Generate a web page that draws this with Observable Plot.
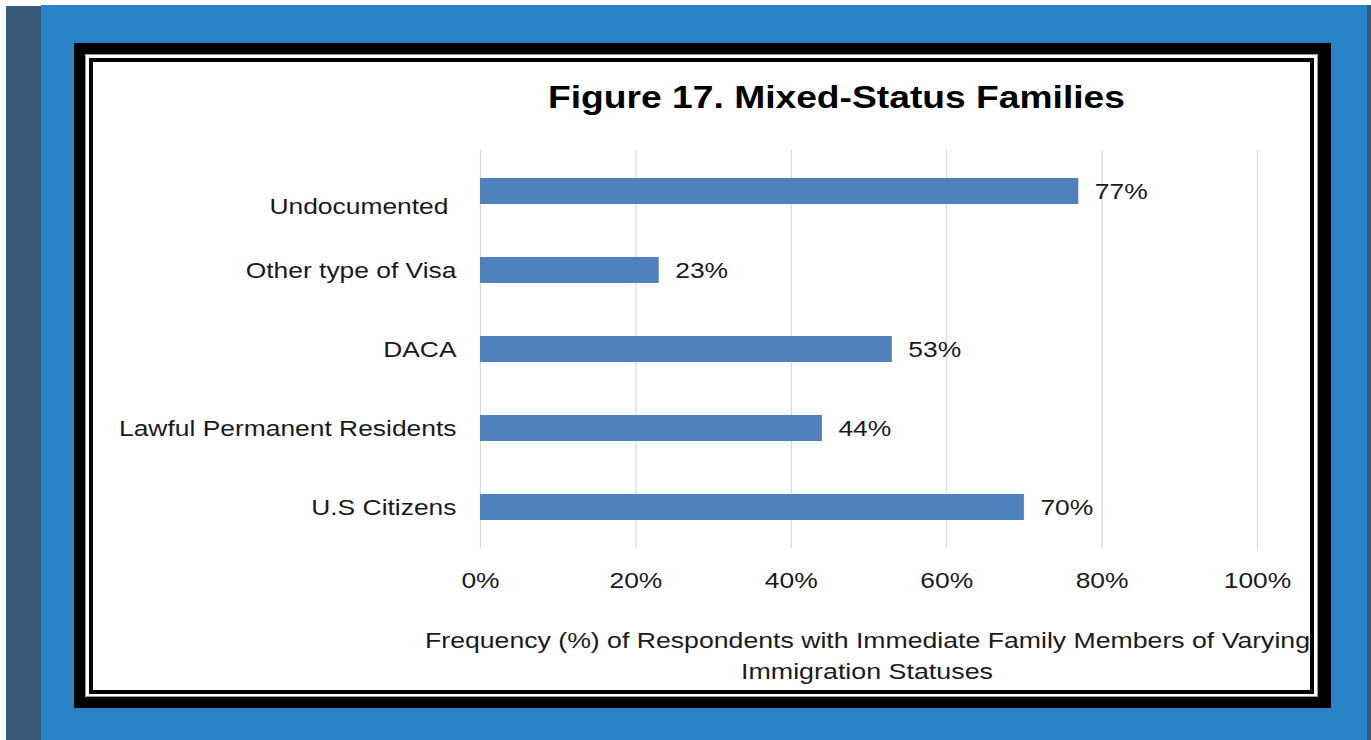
<!DOCTYPE html>
<html><head><meta charset="utf-8">
<script src="https://cdn.jsdelivr.net/npm/d3@7"></script>
<script src="https://cdn.jsdelivr.net/npm/@observablehq/plot@0.6"></script>
<style>
body{margin:0;width:1371px;height:740px;position:relative;background:#fff;overflow:hidden;font-family:"Liberation Sans",Arial,sans-serif}
.abs{position:absolute}
</style></head><body>
<div class="abs" style="left:6px;top:6px;width:35px;height:734px;background:#385a78"></div>
<div class="abs" style="left:41px;top:5px;width:1326px;height:735px;background:#2884c7"></div>
<div class="abs" style="left:1367px;top:5px;width:4px;height:735px;background:#385a78"></div>
<div class="abs" style="left:74px;top:43px;width:1257px;height:665px;background:#000"></div>
<div class="abs" style="left:85px;top:54px;width:1233px;height:643px;background:#fff;box-sizing:border-box;border:1px solid #999"></div>
<div class="abs" style="left:89px;top:58px;width:1225px;height:636px;background:#fff;box-sizing:border-box;border:4px solid #000"></div>
<div id="chart" class="abs" style="left:93px;top:62px;"></div>
<svg id="over" class="abs" style="left:0;top:0;pointer-events:none" width="1371" height="740" font-family="'Liberation Sans',Arial,sans-serif">
  <text id="title" x="548" y="108" font-size="31" font-weight="bold" fill="#000" textLength="577" lengthAdjust="spacingAndGlyphs">Figure 17. Mixed-Status Families</text>
  <text id="xl1" x="425" y="648" font-size="22" fill="#1a1a1a" textLength="885" lengthAdjust="spacingAndGlyphs">Frequency (%) of Respondents with Immediate Family Members of Varying</text>
  <text id="xl2" x="741" y="679" font-size="22" fill="#1a1a1a" textLength="252" lengthAdjust="spacingAndGlyphs">Immigration Statuses</text>
</svg>
<script>
const categories = ["Undocumented", "Other type of Visa", "DACA", "Lawful Permanent Residents", "U.S Citizens"];
const values = [77, 23, 53, 44, 70];
const xTicks = [0, 20, 40, 60, 80, 100];

const data = categories.map((c, i) => ({category: c, value: values[i]}));
const pct = d => d + "%";

const chart = Plot.plot({
  width: 1217,
  height: 628,
  marginLeft: 387,
  marginRight: 53,
  marginTop: 88,
  marginBottom: 142,
  style: {fontFamily: "'Liberation Sans',Arial,sans-serif", fontSize: "22px", color: "#1a1a1a", background: "transparent"},
  x: {domain: [0, 100], axis: null},
  y: {domain: categories, paddingInner: 0.665, paddingOuter: 0.3325, axis: null},
  marks: [
    Plot.gridX(xTicks, {stroke: "#d9d9d9", strokeOpacity: 1, strokeWidth: 1.2}),
    Plot.barX(data, {x: "value", y: "category", fill: "#4f81bd"}),
    Plot.axisX(xTicks, {anchor: "bottom", tickSize: 0, tickPadding: 24, tickFormat: pct, fontSize: 22, label: null, fill: "#1a1a1a"}),
    Plot.text(data.filter(d => d.category !== "Undocumented"), {y: "category", text: "category", frameAnchor: "left", textAnchor: "end", dx: -24, fontSize: 22, fill: "#1a1a1a"}),
    Plot.text(data.filter(d => d.category === "Undocumented"), {y: "category", text: "category", frameAnchor: "left", textAnchor: "end", dx: -32, dy: 15, fontSize: 22, fill: "#1a1a1a"}),
    Plot.text(data, {x: "value", y: "category", text: d => pct(d.value), textAnchor: "start", dx: 16, fontSize: 22, fill: "#1a1a1a"})
  ]
});
document.getElementById("chart").appendChild(chart);
chart.querySelectorAll("text").forEach(t => {
  const w = t.getComputedTextLength();
  if (w > 0) {
    t.setAttribute("textLength", (w * 1.2).toFixed(1));
    t.setAttribute("lengthAdjust", "spacingAndGlyphs");
  }
});
</script>
</body></html>
